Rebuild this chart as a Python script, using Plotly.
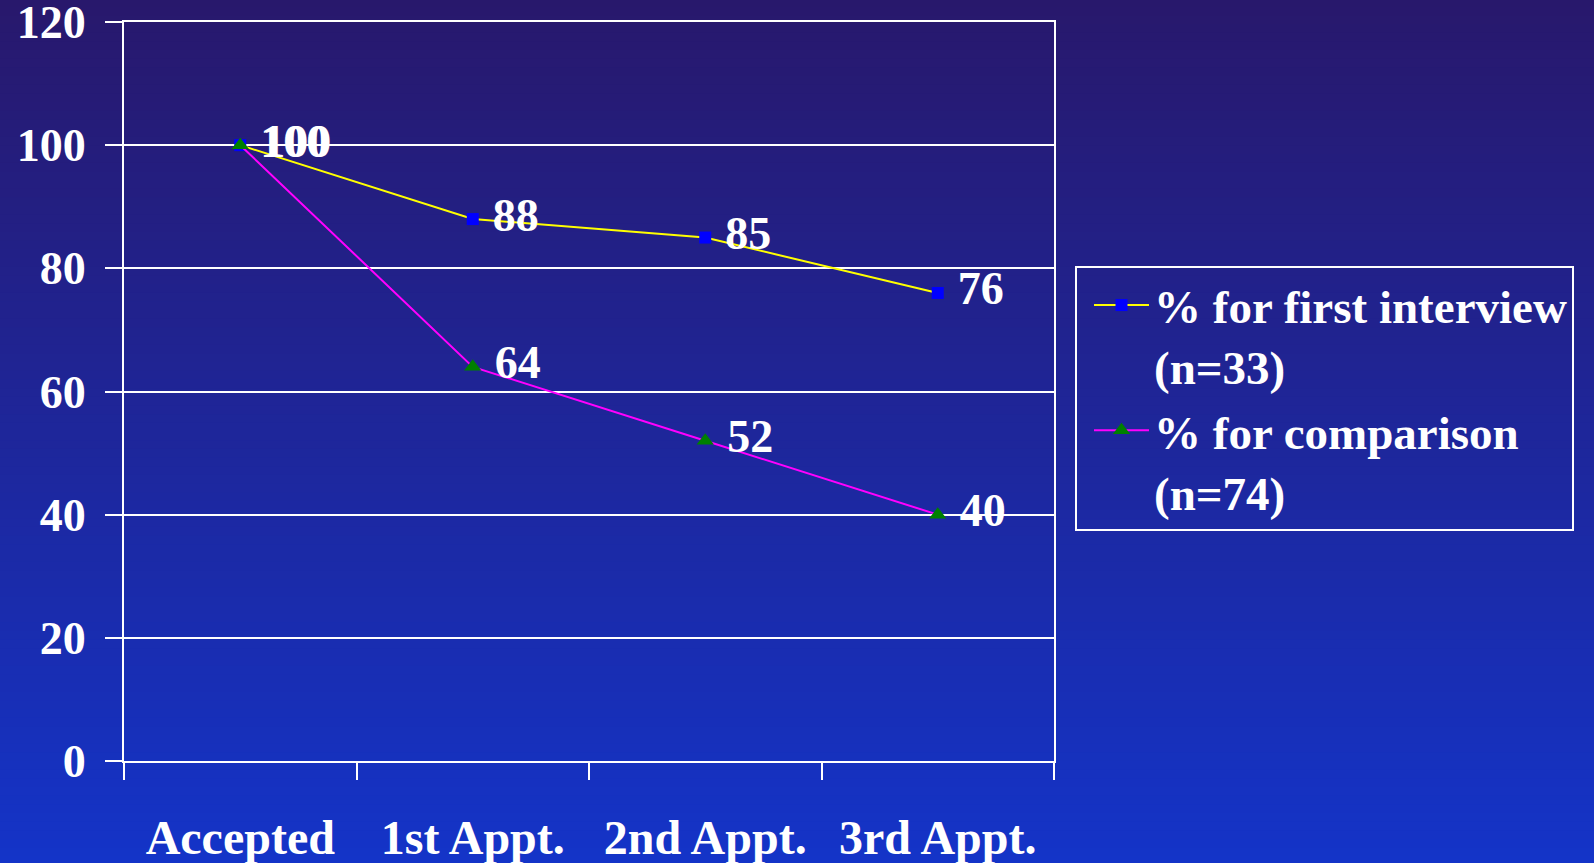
import plotly.graph_objects as go

# Retention by stage (%)
stages = ["Accepted", "1st Appt.", "2nd Appt.", "3rd Appt."]
first_interview = [100, 88, 85, 76]
comparison = [100, 64, 52, 40]
series_names = ["% for first interview<br>(n=33)", "% for comparison<br>(n=74)"]
y_ticks = [0, 20, 40, 60, 80, 100, 120]

W, H = 1594, 863
L, R, T, B = 124, 1054, 22, 761          # plot area edges in pixels
PW, PH = R - L, B - T
FONT = "Liberation Serif, Times New Roman, serif"


def px_x(x):
    return (x - L) / PW


def px_y(y):
    return (B - y) / PH


def serif_bold(size):
    return dict(family=FONT, size=size, color="white", weight="bold")


fig = go.Figure()

fig.add_trace(go.Scatter(
    x=stages, y=first_interview, name=series_names[0],
    mode="lines+markers+text",
    line=dict(color="#ffff00", width=2),
    marker=dict(symbol="square", size=12, color="#0000ff"),
    text=[" " + str(v) for v in first_interview],
    textposition="middle right",
    textfont=serif_bold(46),
    cliponaxis=False,
))
fig.add_trace(go.Scatter(
    x=stages, y=comparison, name=series_names[1],
    mode="lines+markers+text",
    line=dict(color="#ff00ff", width=2),
    marker=dict(symbol="triangle-up", size=15, color="#008000"),
    text=[" " + str(v) for v in comparison],
    textposition="middle right",
    textfont=serif_bold(46),
    cliponaxis=False,
))

# vertical background gradient over the whole page, built from thin bands
top = (40, 24, 108)
bot = (20, 52, 200)
n = 100
shapes = []
for i in range(n):
    t = i / (n - 1)
    c = tuple(round(top[k] + (bot[k] - top[k]) * t) for k in range(3))
    y_top = -2 + i * (H + 4) / n
    y_bot = -2 + (i + 1) * (H + 4) / n + 1
    shapes.append(dict(
        type="rect", xref="paper", yref="paper",
        x0=px_x(-5), x1=px_x(W + 5),
        y0=px_y(y_bot), y1=px_y(y_top),
        fillcolor="rgb(%d,%d,%d)" % c, line=dict(width=0), layer="below",
    ))

fig.update_layout(
    width=W, height=H,
    margin=dict(l=L, r=W - R, t=T, b=H - B, autoexpand=False),
    paper_bgcolor="rgb(30,38,154)",
    plot_bgcolor="rgba(0,0,0,0)",
    shapes=shapes,
    font=dict(family=FONT, size=46, color="white"),
    showlegend=True,
    legend=dict(
        x=px_x(1075), y=px_y(266), xanchor="left", yanchor="top",
        bgcolor="rgba(0,0,0,0)", bordercolor="white", borderwidth=2,
        font=serif_bold(47),
        itemwidth=55, valign="top", tracegroupgap=0, indentation=12,
    ),
    xaxis=dict(
        type="category", range=[-0.5, 3.5], automargin=False,
        showgrid=False, showline=True, linecolor="white", linewidth=2,
        mirror=True, ticks="outside", tickson="boundaries",
        ticklen=17, tickcolor="white", tickwidth=2,
        tickfont=serif_bold(48),
        ticklabelstandoff=33, zeroline=False,
    ),
    yaxis=dict(
        range=[0, 120], tickvals=y_ticks, automargin=False,
        showgrid=True, gridcolor="white", gridwidth=2,
        showline=True, linecolor="white", linewidth=2, mirror=True,
        ticks="outside", ticklen=17, tickcolor="white", tickwidth=2,
        tickfont=serif_bold(46), ticklabeloverflow="allow",
        ticklabelstandoff=10, zeroline=False,
    ),
)

fig.write_html("out.html")
